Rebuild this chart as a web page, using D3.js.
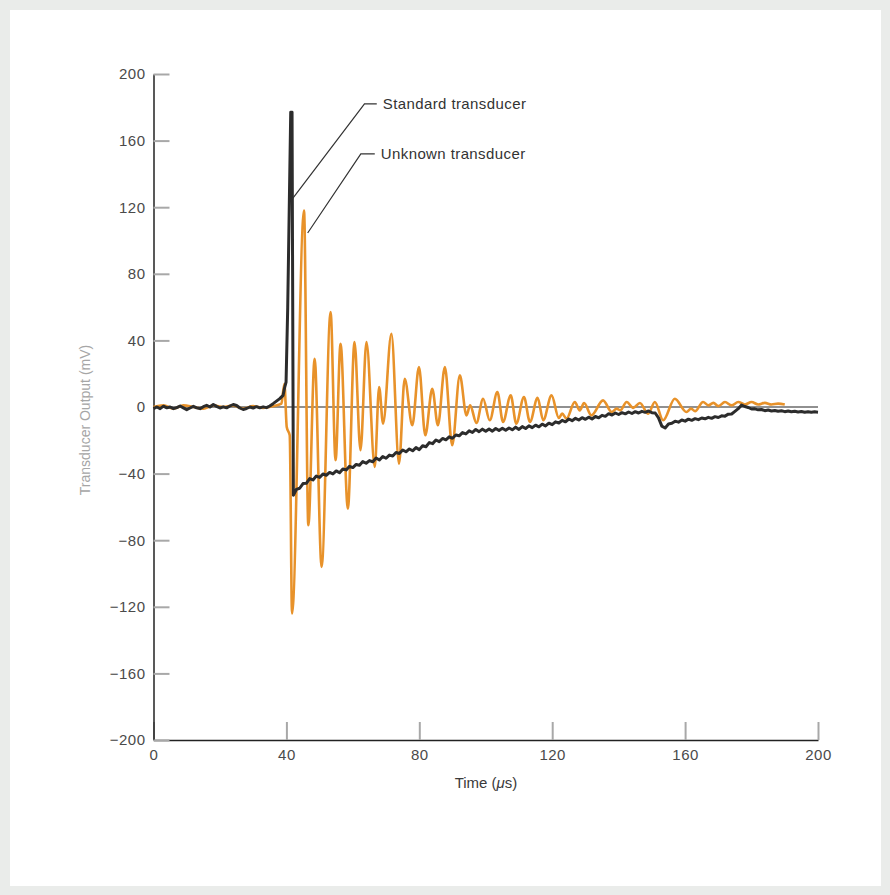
<!DOCTYPE html>
<html>
<head>
<meta charset="utf-8">
<script src="https://cdn.jsdelivr.net/npm/d3@7"></script>
<style>
  html, body { margin: 0; padding: 0; background: #eaecea; }
  svg { display: block; }
  text { font-family: "Liberation Sans", Arial, Helvetica, sans-serif; }
</style>
</head>
<body>
<svg id="chart" width="890" height="895"></svg>
<script>
// ---- Data -------------------------------------------------------------
// Standard transducer, sampled every 1 µs from 0 to 39 µs
const stdPre = [
  -1, 0, -1, 0.5, -0.5, 0, -1, -0.4, 0.6, -0.5,
  -1.6, -0.6, 0.4, -0.5, -1, 0.2, 1, 0, 1.5, 0.4,
  -0.6, 0.1, -0.5, 0.6, 1.5, 0.9, -0.6, -1.5, -0.9, 0,
  -0.6, 0.2, -0.5, 0.1, -0.4, 0.6, 2, 3.5, 5, 7
];
// Standard transducer around the impulse (time µs, output mV)
const stdSpikeTime  = [39.5, 39.9, 40.4, 41.3, 41.7, 42.1];
const stdSpikeValue = [12, 15, 60, 177, 177, -53];
// Standard transducer, sampled every 1 µs from 43 to 200 µs
const stdPost = [
  -49.5, -48.8, -46, -45.8, -43, -43.8, -41.5, -42.3, -40.2, -41,
  -39.3, -40.2, -38.4, -39.5, -37.2, -37.8, -35.6, -36.4, -34.5, -35,
  -32.8, -33.8, -32.2, -32.9, -30.6, -31.8, -29.7, -30.8, -28.9, -29.4,
  -27.3, -27.9, -25.8, -26.9, -25.2, -26.3, -24.4, -25.6, -23.3, -23.9,
  -21.4, -22, -19.8, -20.8, -18.9, -19.7, -17.9, -18.8, -16.8, -17.3,
  -15.4, -16.2, -14.3, -15.3, -13.5, -14.8, -13.3, -14.6, -13.2, -14.5,
  -12.9, -14.1, -12.8, -14, -12.6, -13.7, -12.1, -13.5, -11.8, -12.9,
  -11.3, -12.4, -10.9, -11.9, -10.3, -11.4, -9.7, -10.6, -8.9, -9.6,
  -8, -8.9, -7.2, -8.2, -6.8, -7.8, -6.4, -7.4, -6.1, -7.2,
  -5.7, -6.5, -5, -5.6, -4, -4.8, -3.6, -4.5, -3.4, -4.1,
  -3, -3.9, -2.8, -3.6, -2.6, -3.2, -2.4, -3.4, -3.6, -6.5,
  -11.5, -12.6, -10.2, -9.8, -8.5, -9.1, -7.8, -8.5, -7.3, -8,
  -7, -7.6, -6.6, -7.1, -6.2, -6.8, -5.8, -6.3, -5.3, -5.5,
  -4.3, -4.2, -2.6, -1, 1.2, 0.3, -0.3, -1.2, -1.1, -1.7,
  -1.5, -2.2, -1.8, -2.4, -2.1, -2.6, -2.3, -2.8, -2.4, -2.9,
  -2.6, -3, -2.7, -3.2, -2.8, -3.2, -2.9, -3.1
];

// Unknown transducer: turning points of the ringing waveform (time µs, output mV)
const unkTime = [
  0, 3, 6, 9, 12, 15, 18, 21, 24, 27, 30, 33, 36, 38.5,
  39.4, 40.1, 41, 41.7, 45.3, 46.6, 48.5, 50.6, 53.3, 54.8,
  56.3, 58.5, 60.5, 62.3, 64.1, 66.6, 67.9, 69.1, 71.6, 73.9,
  75.6, 77.9, 79.9, 81.8, 83.9, 85.6, 87.7, 89.9, 92.2, 94.2,
  95.3, 97.2, 99.2, 101.2, 103.5, 105.2, 107.5, 109.2, 111.5, 113.3,
  115.6, 117.3, 119.8, 122, 123, 124.3, 126.8, 128.3, 129.6, 131.8,
  135.3, 137.9, 139.4, 140.5, 142.4, 144.4, 146.4, 148.9, 150.9, 153.4,
  156.9, 160.4, 161.8, 163, 165.4, 167, 168.5, 170, 172, 174,
  176, 178, 180, 182, 184, 186, 188, 190
];
const unkValue = [
  0, 1, -1, 1, 0, -1, 1, 0, 1, -1, 0.5, -0.5, 0.5, 2,
  14, -12, -17, -124, 118, -71, 29, -96, 57, -32,
  38, -61, 39, -26, 39, -36, 12, -10, 44, -34,
  17, -11, 24, -17, 11, -11, 24, -23, 19, -5,
  1, -9.6, 5, -8, 9, -9, 7, -10, 6, -9,
  5.5, -8, 7, -6.6, -4, -7, 3, -2, 2.4, -5,
  4, -3, -1, -2, 3, -0.5, 2.4, -4, 3, -8,
  5, -3, -1, -2.5, 3, 1, 2.5, 0.5, 3, 1,
  3, 1.5, 3, 1.5, 2.5, 1.5, 2, 1.5
];

const xTicks = [0, 40, 80, 120, 160, 200];
const yTicks = [-200, -160, -120, -80, -40, 0, 40, 80, 120, 160, 200];

const seriesNames = ["Standard transducer", "Unknown transducer"];

// ---- Assemble point lists ---------------------------------------------
const standard = [];
stdPre.forEach((v, i) => standard.push([i, v]));
stdSpikeTime.forEach((t, i) => standard.push([t, stdSpikeValue[i]]));
stdPost.forEach((v, i) => standard.push([43 + i, v]));

const unknown = unkTime.map((t, i) => [t, unkValue[i]]);

// ---- Layout -----------------------------------------------------------
const svg = d3.select("#chart");
svg.append("rect").attr("x", 10).attr("y", 10)
  .attr("width", 871).attr("height", 876).attr("fill", "#ffffff");

const x = d3.scaleLinear().domain([0, 200]).range([153.5, 818]);
const y = d3.scaleLinear().domain([-200, 200]).range([740, 74]);

// Axes with inward ticks
const gx = svg.append("g").attr("transform", `translate(0,${y(-200)})`)
  .call(d3.axisBottom(x).tickValues(xTicks).tickSize(-18).tickSizeOuter(0).tickPadding(9));
const gy = svg.append("g").attr("transform", `translate(${x(0)},0)`)
  .call(d3.axisLeft(y).tickValues(yTicks).tickSize(-16).tickSizeOuter(0).tickPadding(8));

[gx, gy].forEach(g => {
  g.select(".domain").attr("stroke", "#222").attr("stroke-width", 1.5);
  g.selectAll(".tick line").attr("stroke", "#a8a8a8").attr("stroke-width", 2);
  g.selectAll(".tick text")
    .attr("fill", "#4a4a4a")
    .style("font-size", "15px")
    .style("letter-spacing", "0.5px")
    .style("font-family", "'Liberation Sans', Arial, sans-serif");
});
gy.selectAll(".tick").filter(d => d === 0).select("line").remove();

// Axis titles
const xTitle = svg.append("text")
  .attr("x", 486).attr("y", 788)
  .attr("text-anchor", "middle")
  .attr("fill", "#3a3a3a")
  .style("font-size", "15px");
xTitle.append("tspan").text("Time (");
xTitle.append("tspan").style("font-style", "italic").text("\u03bc");
xTitle.append("tspan").text("s)");

svg.append("text")
  .attr("transform", "translate(90,420) rotate(-90)")
  .attr("text-anchor", "middle")
  .attr("fill", "#a6a6a6")
  .style("font-size", "14px")
  .text("Transducer Output (mV)");

// Zero reference line
svg.append("line")
  .attr("x1", x(0)).attr("x2", x(200))
  .attr("y1", y(0)).attr("y2", y(0))
  .attr("stroke", "#222").attr("stroke-width", 1.2);

// Traces
const unkLine = d3.line().x(d => x(d[0])).y(d => y(d[1])).curve(d3.curveMonotoneX);
const stdLine = d3.line().x(d => x(d[0])).y(d => y(d[1]));

svg.append("path").datum(unknown)
  .attr("d", unkLine)
  .attr("fill", "none")
  .attr("stroke", "#e8922a")
  .attr("stroke-width", 2.6)
  .attr("stroke-linejoin", "round");

svg.append("path").datum(standard)
  .attr("d", stdLine)
  .attr("fill", "none")
  .attr("stroke", "#2c2c2c")
  .attr("stroke-width", 3)
  .attr("stroke-linejoin", "round");

// Callout labels with leader lines
const callouts = [
  { name: seriesNames[0], anchor: [41.8, 125], elbow: [63.5, 182], end: [67.2, 182] },
  { name: seriesNames[1], anchor: [46.4, 104.5], elbow: [62.4, 152], end: [66.6, 152] }
];
callouts.forEach(c => {
  svg.append("polyline")
    .attr("points", [c.anchor, c.elbow, c.end].map(p => `${x(p[0])},${y(p[1])}`).join(" "))
    .attr("fill", "none")
    .attr("stroke", "#333")
    .attr("stroke-width", 1.2);
  svg.append("text")
    .attr("x", x(c.end[0]) + 6)
    .attr("y", y(c.end[1]))
    .attr("dy", "0.35em")
    .attr("fill", "#333")
    .style("font-size", "15px")
    .style("letter-spacing", "0.4px")
    .text(c.name);
});
</script>
</body>
</html>
